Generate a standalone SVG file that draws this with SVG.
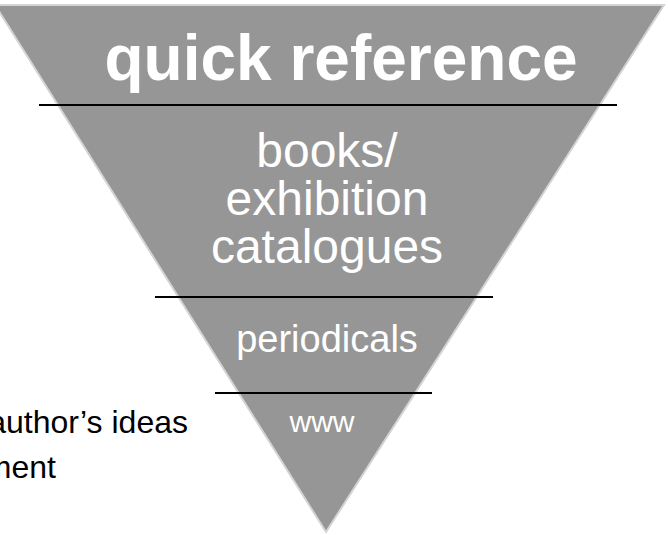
<svg xmlns="http://www.w3.org/2000/svg" width="668" height="535" viewBox="0 0 668 535">
<style>
.tri{fill:#969696;stroke:#d4d4d4;stroke-width:2}
.div{stroke:#000;stroke-width:2}
.w{fill:#fff;font-family:"Liberation Sans",Arial,sans-serif;text-anchor:middle}
.b{fill:#000;font-family:"Liberation Sans",Arial,sans-serif;font-size:32px;text-anchor:end}
</style>
<rect width="668" height="535" fill="#fff"/>
<g id="pyramid">
<polygon class="tri" points="-5,5 664,5 326,532"/>
</g>
<g id="connectors">
<line class="div" x1="39" y1="105" x2="617" y2="105"/>
<line class="div" x1="155" y1="297" x2="493" y2="297"/>
<line class="div" x1="215" y1="393" x2="432" y2="393"/>
</g>
<g id="quick-reference">
<text class="w" x="341" y="80" font-size="64" font-weight="bold">quick reference</text>
</g>
<g id="books">
<text class="w" x="327" y="167" font-size="48">books/</text>
<text class="w" x="327" y="215" font-size="48">exhibition</text>
<text class="w" x="327" y="263" font-size="48">catalogues</text>
</g>
<g id="periodicals">
<text class="w" x="327" y="352" font-size="38">periodicals</text>
</g>
<g id="www">
<text class="w" x="322" y="432" font-size="30">www</text>
</g>
<g id="left-text">
<text class="b" x="188" y="433">author’s ideas</text>
<text class="b" x="56" y="478">ment</text>
</g>
</svg>
